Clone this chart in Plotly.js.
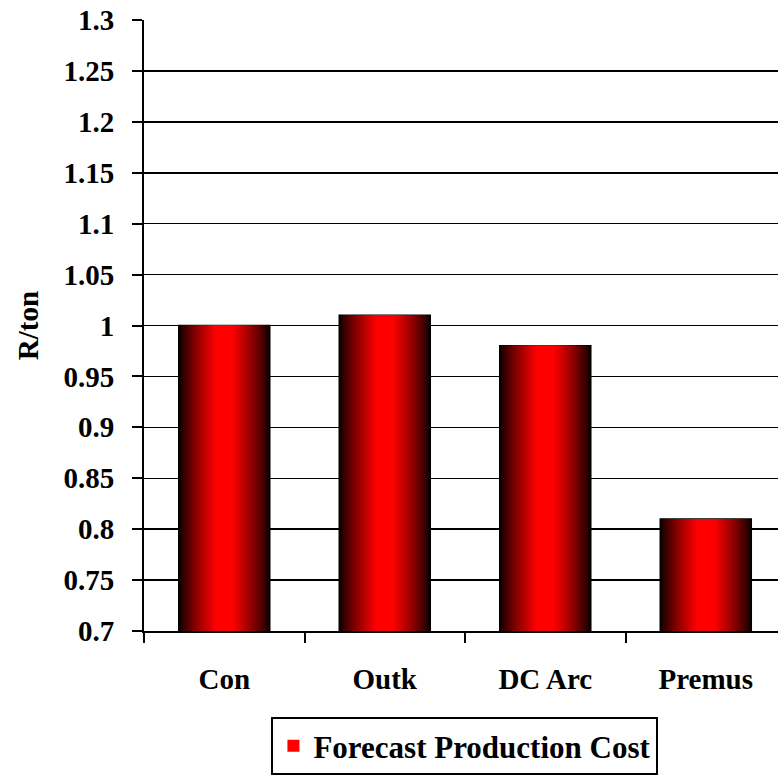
<!DOCTYPE html>
<html>
<head>
<meta charset="utf-8">
<script src="https://cdn.plot.ly/plotly-3.0.1.min.js"></script>
<style>html,body{margin:0;padding:0;background:#fff;}#chart{width:778px;height:778px;}</style>
</head>
<body>
<div id="chart"></div>
<script>
// ---- data ----
var categories = ["Con", "Outk", "DC Arc", "Premus"];
var forecastCost = [1.0, 1.01, 0.98, 0.81];
var seriesName = "Forecast Production Cost";
var yTickVals = [0.7, 0.75, 0.8, 0.85, 0.9, 0.95, 1, 1.05, 1.1, 1.15, 1.2, 1.25, 1.3];
var yTickText = ["0.7", "0.75", "0.8", "0.85", "0.9", "0.95", "1", "1.05", "1.1", "1.15", "1.2", "1.25", "1.3"];
var yTitle = "R/ton";
var axisBase = 0.7;

// ---- styling: horizontal gradient emulated by overlaid bars ----
var FONT = {family: "Liberation Serif", size: 29, color: "#000", weight: "bold"};
var LEGEND_FONT = {family: "Liberation Serif", size: 31, color: "#000", weight: "bold"};
var outerWidth = 0.567;
var layers = 18;
var traces = [];
for (var i = 0; i < layers; i++) {
  var t = i / (layers - 1);
  var w = outerWidth * (1 - 0.8 * t);
  var r = Math.round(18 + (255 - 18) * Math.pow(t, 0.85));
  var isOuter = (i === 0);
  var isInner = (i === layers - 1);
  traces.push({
    type: "bar",
    x: categories,
    y: forecastCost.map(function (v) { return v - axisBase; }),
    base: axisBase,
    width: w,
    name: seriesName,
    showlegend: isInner,
    hoverinfo: "skip",
    marker: {
      color: "rgb(" + r + ",0,0)",
      line: {color: isOuter ? "#000" : "rgba(0,0,0,0)", width: isOuter ? 1.5 : 0}
    }
  });
}

var layout = {
  width: 778, height: 778,
  margin: {l: 144, r: 0, t: 20, b: 147, pad: 0},
  paper_bgcolor: "#fff", plot_bgcolor: "#fff",
  barmode: "overlay",
  showlegend: true,
  font: FONT,
  xaxis: {
    type: "category",
    range: [-0.5, 3.45],
    showline: true, linecolor: "#000", linewidth: 2,
    ticks: "outside", tickson: "boundaries", ticklen: 10, tickwidth: 2, tickcolor: "#000",
    ticklabelstandoff: 21,
    showgrid: false, zeroline: false,
    tickfont: FONT
  },
  yaxis: {
    range: [0.7, 1.3],
    tickvals: yTickVals, ticktext: yTickText,
    showline: true, linecolor: "#000", linewidth: 2,
    ticks: "outside", ticklen: 10, tickwidth: 2, tickcolor: "#000",
    ticklabelstandoff: 12,
    showgrid: true, gridcolor: "#000", gridwidth: 1.5,
    zeroline: false,
    tickfont: FONT,
    title: {text: yTitle, font: FONT, standoff: 16}
  },
  legend: {
    x: 0.201, xanchor: "left",
    y: -0.236, yanchor: "bottom",
    bordercolor: "#000", borderwidth: 2,
    bgcolor: "#fff",
    font: LEGEND_FONT
  }
};

Plotly.newPlot("chart", traces, layout, {displayModeBar: false, staticPlot: true});
</script>
</body>
</html>
